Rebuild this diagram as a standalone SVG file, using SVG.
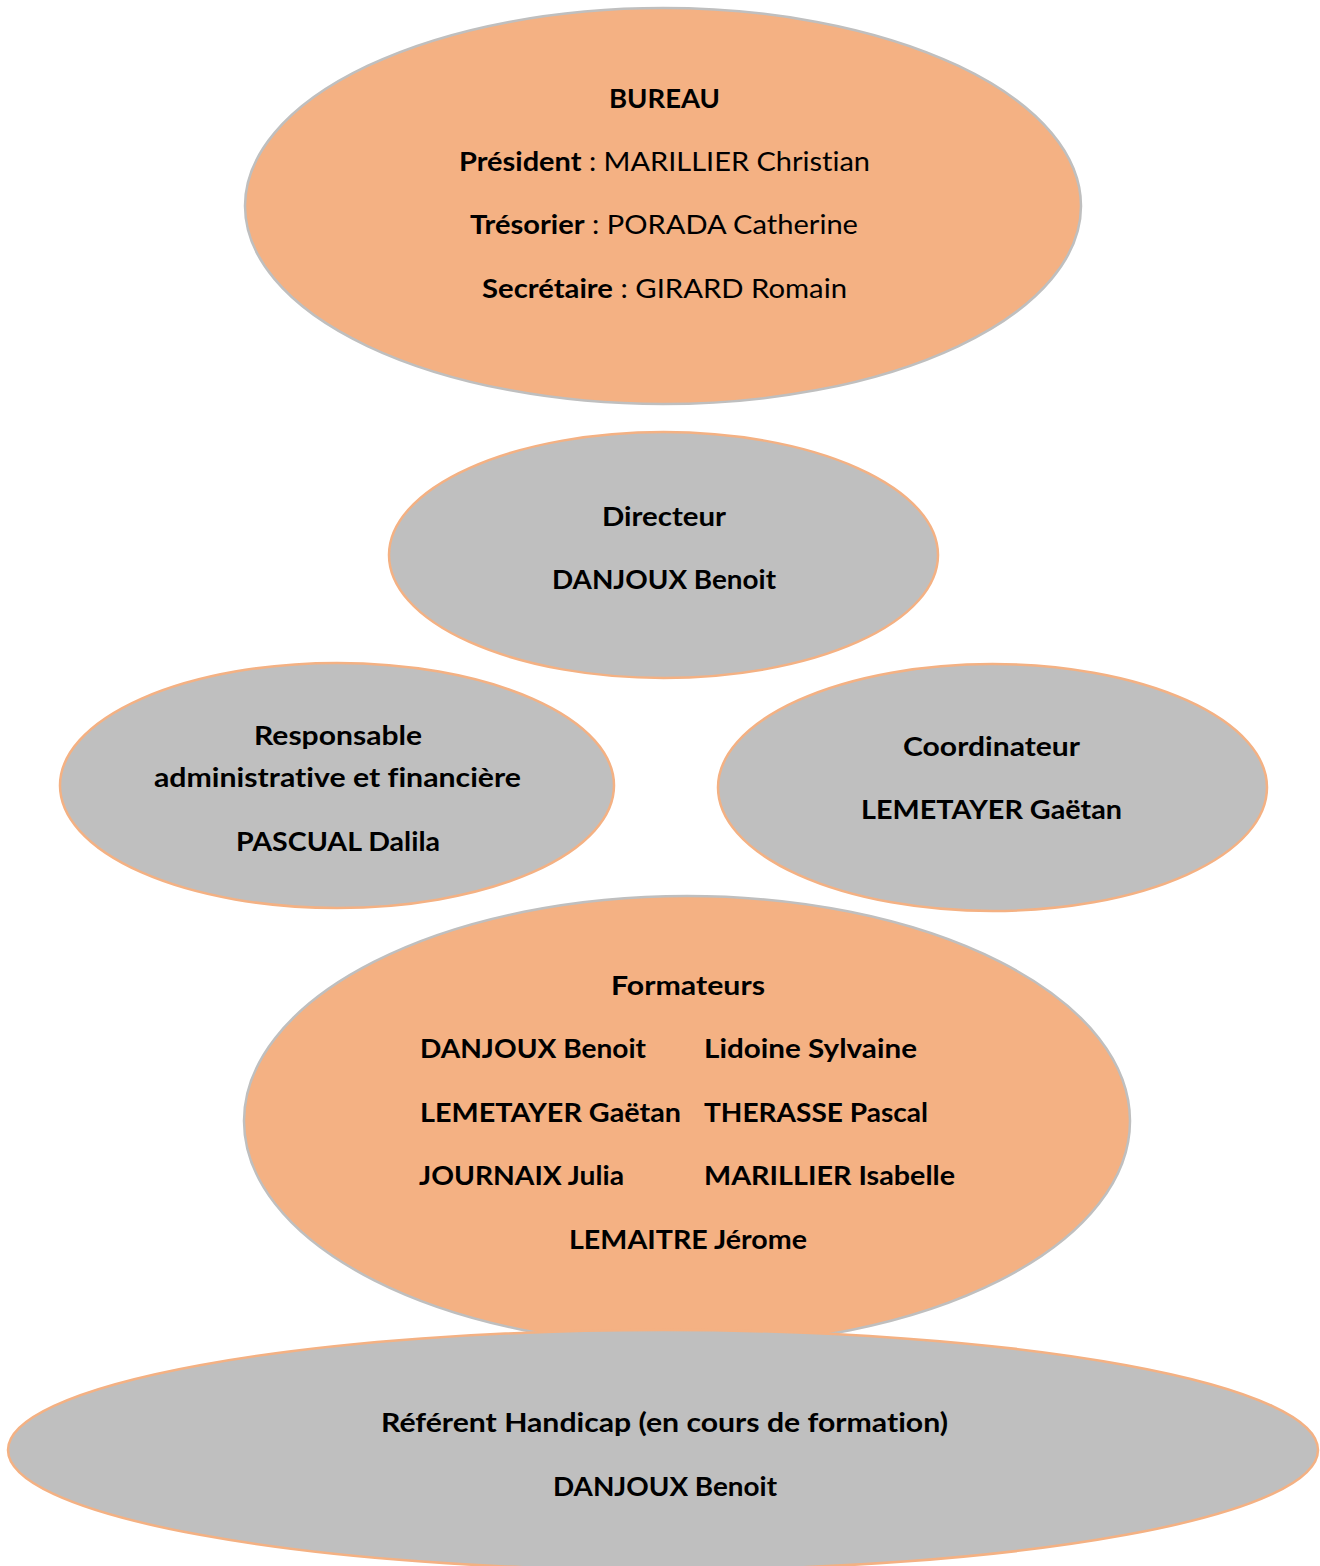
<svg xmlns="http://www.w3.org/2000/svg" width="1320" height="1566" viewBox="0 0 1320 1566">
<style>
.orange{fill:#f4b183;stroke:#bfbfbf;stroke-width:2.5}
.gray{fill:#bfbfbf;stroke:#f4b183;stroke-width:2.5}
text{font-family:Lato,"Liberation Sans",sans-serif;font-size:26.7px;fill:#000;text-anchor:middle;font-variant-ligatures:none;font-feature-settings:"liga" 0}
.b{font-weight:bold}
.l{text-anchor:start}
.n{font-weight:normal}
</style>
<rect width="1320" height="1566" fill="#fff"/>
<g id="connectors"/>
<g id="bureau">
<ellipse class="orange" cx="663" cy="206" rx="418" ry="198"/>
<text class="b" x="664.5" y="108" textLength="111" lengthAdjust="spacingAndGlyphs">BUREAU</text>
<text x="664.5" y="171" textLength="411" lengthAdjust="spacingAndGlyphs"><tspan class="b">Président</tspan><tspan class="n"> : MARILLIER Christian</tspan></text>
<text x="664" y="234" textLength="388" lengthAdjust="spacingAndGlyphs"><tspan class="b">Trésorier</tspan><tspan class="n"> : PORADA Catherine</tspan></text>
<text x="664.5" y="298" textLength="365" lengthAdjust="spacingAndGlyphs"><tspan class="b">Secrétaire</tspan><tspan class="n"> : GIRARD Romain</tspan></text>
</g>
<g id="directeur">
<ellipse class="gray" cx="663.5" cy="555" rx="274.5" ry="123"/>
<text class="b" x="664" y="526" textLength="124" lengthAdjust="spacingAndGlyphs">Directeur</text>
<text class="b" x="664" y="589" textLength="224" lengthAdjust="spacingAndGlyphs">DANJOUX Benoit</text>
</g>
<g id="responsable">
<ellipse class="gray" cx="337" cy="785.5" rx="277" ry="122.5"/>
<text class="b" x="338" y="745" textLength="168" lengthAdjust="spacingAndGlyphs">Responsable</text>
<text class="b" x="337.5" y="787" textLength="367" lengthAdjust="spacingAndGlyphs">administrative et financière</text>
<text class="b" x="338" y="851" textLength="204" lengthAdjust="spacingAndGlyphs">PASCUAL Dalila</text>
</g>
<g id="coordinateur">
<ellipse class="gray" cx="992.5" cy="787.5" rx="274.5" ry="123.5"/>
<text class="b" x="991.5" y="756" textLength="177" lengthAdjust="spacingAndGlyphs">Coordinateur</text>
<text class="b" x="991.5" y="819" textLength="261" lengthAdjust="spacingAndGlyphs">LEMETAYER Gaëtan</text>
</g>
<g id="formateurs">
<ellipse class="orange" cx="687" cy="1121" rx="443" ry="225"/>
<text class="b" x="688" y="995" textLength="154" lengthAdjust="spacingAndGlyphs">Formateurs</text>
<text class="b l" x="420" y="1058" textLength="226" lengthAdjust="spacingAndGlyphs">DANJOUX Benoit</text>
<text class="b l" x="704" y="1058" textLength="213" lengthAdjust="spacingAndGlyphs">Lidoine Sylvaine</text>
<text class="b l" x="420" y="1122" textLength="261" lengthAdjust="spacingAndGlyphs">LEMETAYER Gaëtan</text>
<text class="b l" x="704" y="1122" textLength="224" lengthAdjust="spacingAndGlyphs">THERASSE Pascal</text>
<text class="b l" x="419" y="1185" textLength="205" lengthAdjust="spacingAndGlyphs">JOURNAIX Julia</text>
<text class="b l" x="704" y="1185" textLength="251" lengthAdjust="spacingAndGlyphs">MARILLIER Isabelle</text>
<text class="b" x="688" y="1249" textLength="238" lengthAdjust="spacingAndGlyphs">LEMAITRE Jérome</text>
</g>
<g id="referent">
<ellipse class="gray" cx="663" cy="1450" rx="655" ry="120"/>
<text class="b" x="664.5" y="1432" textLength="567" lengthAdjust="spacingAndGlyphs">Référent Handicap (en cours de formation)</text>
<text class="b" x="665" y="1496" textLength="224" lengthAdjust="spacingAndGlyphs">DANJOUX Benoit</text>
</g>
</svg>
